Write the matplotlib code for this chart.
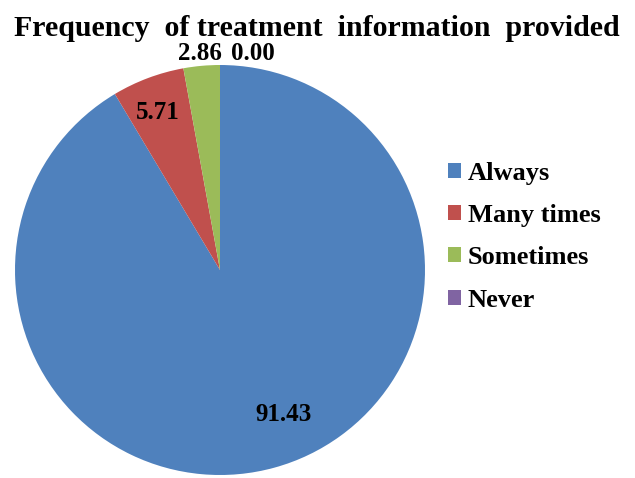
import numpy as np
import matplotlib.pyplot as plt

plt.rcParams['font.family'] = ['Liberation Serif', 'DejaVu Serif']
plt.rcParams['font.weight'] = 'bold'

categories = ['Always', 'Many times', 'Sometimes', 'Never']
values = [91.43, 5.71, 2.86, 0.00]
colors = ['#4F81BD', '#C0504D', '#9BBB59', '#8064A2']
# label placement per wedge: (distance from centre, angle shift in degrees)
label_pos = [(0.772, 8.3), (0.823, 0.9), (1.06, 0.25), (1.066, -8.6)]

W, H = 635, 478
fig = plt.figure(figsize=(W / 100, H / 100), dpi=100)
cx, cy, r = 220, 270, 205
ax = fig.add_axes([(cx - r) / W, (H - cy - r) / H, 2 * r / W, 2 * r / H])

wedges, _ = ax.pie(values, colors=colors, startangle=90, counterclock=False,
                   radius=1, wedgeprops=dict(linewidth=0))
ax.set_xlim(-1, 1)
ax.set_ylim(-1, 1)
ax.set_aspect('equal')
ax.axis('off')

for w, v, (d, shift) in zip(wedges, values, label_pos):
    ang = np.deg2rad((w.theta1 + w.theta2) / 2 + shift)
    ax.text(d * np.cos(ang), d * np.sin(ang), f'{v:.2f}', ha='center', va='center',
            fontsize=18, fontweight='bold', clip_on=False)

fig.text(317 / W, 1 - 28 / H, 'Frequency  of treatment  information  provided',
         ha='center', va='center', fontsize=21.5, fontweight='bold')

fig.legend(wedges, categories, loc='upper left', bbox_to_anchor=(424 / W, 1 - 138 / H),
           frameon=False, fontsize=19, handlelength=0.49, handleheight=0.49,
           handletextpad=0.27, labelspacing=0.73)

fig.savefig('out.png', dpi=100)
